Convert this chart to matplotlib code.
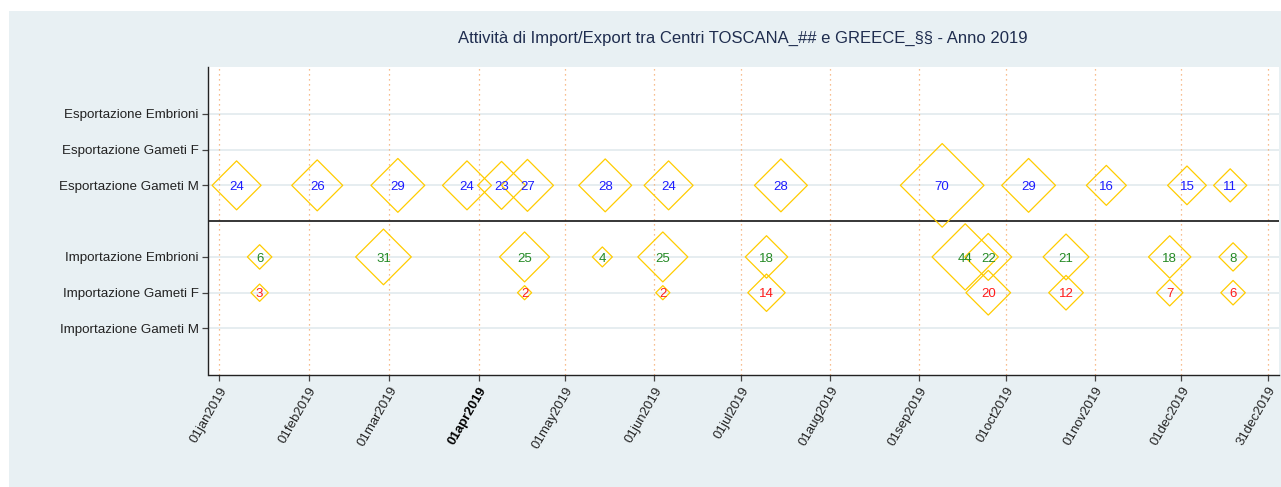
import matplotlib
matplotlib.use("Agg")
import matplotlib.pyplot as plt
import matplotlib.dates as mdates
from matplotlib.patches import Rectangle
import datetime as dt

plt.rcParams['font.family'] = ['Liberation Sans', 'DejaVu Sans']

# ---- data -----------------------------------------------------------------
title = "Attività di Import/Export tra Centri TOSCANA_## e GREECE_§§ - Anno 2019"

row_labels = ["Importazione Gameti M", "Importazione Gameti F", "Importazione Embrioni",
              "Esportazione Gameti M", "Esportazione Gameti F", "Esportazione Embrioni"]
row_pos = [1, 2, 3, 5, 6, 7]

exp_gm_dates = ["2019-01-07", "2019-02-04", "2019-03-04", "2019-03-28", "2019-04-09",
                "2019-04-18", "2019-05-15", "2019-06-06", "2019-07-15", "2019-09-09",
                "2019-10-09", "2019-11-05", "2019-12-03", "2019-12-18"]
exp_gm_values = [24, 26, 29, 24, 23, 27, 28, 24, 28, 70, 29, 16, 15, 11]

imp_emb_dates = ["2019-01-15", "2019-02-27", "2019-04-17", "2019-05-14", "2019-06-04",
                 "2019-07-10", "2019-09-17", "2019-09-25", "2019-10-22", "2019-11-27",
                 "2019-12-19"]
imp_emb_values = [6, 31, 25, 4, 25, 18, 44, 22, 21, 18, 8]

imp_gf_dates = ["2019-01-15", "2019-04-17", "2019-06-04", "2019-07-10", "2019-09-25",
                "2019-10-22", "2019-11-27", "2019-12-19"]
imp_gf_values = [3, 2, 2, 14, 20, 12, 7, 6]

tick_dates = ["2019-01-01", "2019-02-01", "2019-03-01", "2019-04-01", "2019-05-01",
              "2019-06-01", "2019-07-01", "2019-08-01", "2019-09-01", "2019-10-01",
              "2019-11-01", "2019-12-01", "2019-12-31"]

# ---- styling --------------------------------------------------------------
BG = "#e8f0f3"
GOLD = "#ffcc00"
GRID = "#e6edf0"
VLINE = "#f5a86a"

def to_num(ds):
    return [mdates.date2num(dt.datetime.strptime(d, "%Y-%m-%d")) for d in ds]

fig = plt.figure(figsize=(12.81, 4.87), dpi=100, facecolor="white")
fig.patches.append(Rectangle((9 / 1281, 0), 1, 1 - 11 / 487, transform=fig.transFigure,
                             facecolor=BG, edgecolor="none", zorder=-10))

ax = fig.add_axes([208.5 / 1281, 1 - 375 / 487, (1279 - 208.5) / 1281, (375 - 67.3) / 487])
ax.set_facecolor("white")

tick_nums = to_num(tick_dates)
x0 = mdates.date2num(dt.datetime(2019, 1, 1))
x1 = mdates.date2num(dt.datetime(2019, 12, 31))
ax.set_xlim(x0 - 3.75, x1 + 3.95)
ax.set_ylim(-0.3, 8.3)

# grid
for y in row_pos:
    ax.axhline(y, color=GRID, lw=1.4, zorder=0)
for x in tick_nums:
    ax.axvline(x, color=VLINE, lw=0.9, ls=(0, (1, 3)), zorder=0)
ax.axhline(4, color="black", lw=1.1, zorder=1)

SCALE = 25.9

def draw_row(dates, values, y, color):
    xs = to_num(dates)
    ax.scatter(xs, [y] * len(xs), s=[SCALE * v for v in values], marker="D",
               facecolors="none", edgecolors=GOLD, linewidths=0.9, zorder=3)
    for x, v in zip(xs, values):
        ax.annotate(str(v), (x, y), xytext=(0, -1.2), textcoords="offset points",
                    ha="center", va="center", color=color, fontsize=9.5, zorder=4)

draw_row(exp_gm_dates, exp_gm_values, 5, "#1c1cff")
draw_row(imp_emb_dates, imp_emb_values, 3, "#258a25")
draw_row(imp_gf_dates, imp_gf_values, 2, "#ff1c1c")

# axes
ax.set_yticks(row_pos)
ax.set_yticklabels(row_labels, fontsize=9.6, color="#222222")
ax.set_xticks(tick_nums)
labels = [dt.datetime.strptime(d, "%Y-%m-%d").strftime("%d%b%Y").lower() for d in tick_dates]
ax.set_xticklabels(labels, fontsize=9.5, color="#222222", rotation=60, ha="right",
                   va="top", rotation_mode="anchor")
for lab in ax.get_xticklabels():
    if lab.get_text() == "01apr2019":
        lab.set_fontweight("bold")
        lab.set_color("black")

ax.tick_params(axis="both", direction="out", length=4.5, width=0.9, color="#444444")
ax.tick_params(axis="y", pad=2.5)
ax.tick_params(axis="x", pad=2.5)

for side in ["top", "right"]:
    ax.spines[side].set_visible(False)
ax.spines["left"].set_color("#222222")
ax.spines["bottom"].set_color("#222222")
ax.spines["left"].set_linewidth(1.0)
ax.spines["bottom"].set_linewidth(1.0)

fig.text(743 / 1281, 1 - 38.5 / 487, title, ha="center", va="center",
         fontsize=12, color="#1f2d4f")

fig.savefig("out.png", dpi=100, facecolor=fig.get_facecolor())
